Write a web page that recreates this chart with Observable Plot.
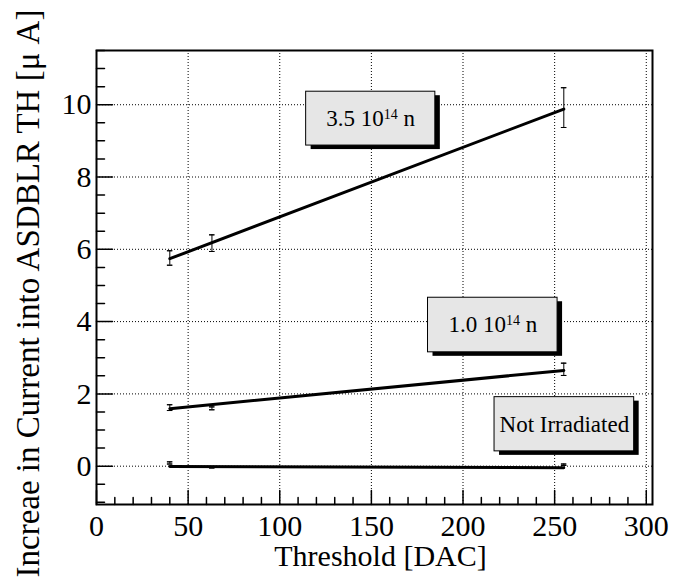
<!DOCTYPE html>
<html><head><meta charset="utf-8">
<script src="https://cdn.jsdelivr.net/npm/d3@7"></script>
<script src="https://cdn.jsdelivr.net/npm/@observablehq/plot@0.6"></script>
<style>body{margin:0;background:#fff}</style>
</head><body><div id="chart"></div>
<script>
// ---- data ----
const thresholds = [40, 63, 255];
const current35 = [5.76, 6.17, 9.92];
const current35Err = [0.2, 0.23, 0.55];
const current10 = [1.62, 1.6, 2.68];
const current10Err = [0.08, 0.04, 0.17];
const currentNot = [0.09, -0.03, 0.04];
const currentNotErr = [0.03, 0.02, 0.02];
const fitRange = [40, 255];
const fit35 = [5.74, 9.88];
const fit10 = [1.59, 2.65];
const fitNot = [-0.01, -0.04];
const seriesNames = ["3.5 10^14 n", "1.0 10^14 n", "Not Irradiated"];
const xTickValues = [0, 50, 100, 150, 200, 250, 300];
const xTickLabels = ["0", "50", "100", "150", "200", "250", "300"];
const yTickValues = [0, 2, 4, 6, 8, 10];
const yTickLabels = ["0", "2", "4", "6", "8", "10"];
const xTitle = "Threshold [DAC]";
const yTitle = "Increae in Current into ASDBLR TH [\u03bc A]";
// annotation box placement (data coordinates)
const boxX1 = [114.4, 180.9, 217.2];
const boxX2 = [184.9, 251.6, 293.4];
const boxY1 = [8.87, 3.15, 0.41];
const boxY2 = [10.36, 4.66, 1.91];

const xMinor = d3.range(0, 301, 10).filter(v => v % 50 !== 0);
const yMinor = d3.range(-1, 11.51, 0.5).filter(v => v % 2 !== 0);

const series = [
  {name: seriesNames[0], y: current35, err: current35Err, fit: fit35},
  {name: seriesNames[1], y: current10, err: current10Err, fit: fit10},
  {name: seriesNames[2], y: currentNot, err: currentNotErr, fit: fitNot}
];
const points = series.flatMap(s => thresholds.map((x, i) => ({x, y: s.y[i], lo: s.y[i] - s.err[i], hi: s.y[i] + s.err[i]})));
const fits = series.flatMap(s => fitRange.map((x, i) => ({name: s.name, x, y: s.fit[i]})));
const boxes = seriesNames.map((text, i) => ({text, x1: boxX1[i], x2: boxX2[i], y1: boxY1[i], y2: boxY2[i]}));

const line = {shape: "spike", r: 0, stroke: "black", fill: "none"};

const chart = Plot.plot({
  width: 673, height: 586,
  marginLeft: 96, marginRight: 21, marginTop: 50, marginBottom: 82,
  x: {domain: [0, 303.4]},
  y: {domain: [-1.06, 11.5]},
  style: {fontFamily: "'Liberation Serif', 'Times New Roman', serif", fontSize: "29px", background: "white", color: "black", overflow: "visible"},
  marks: [
    Plot.ruleX(xTickValues, {stroke: "black", strokeDasharray: "1,2", strokeWidth: 1}),
    Plot.ruleY(yTickValues, {stroke: "black", strokeDasharray: "1,2", strokeWidth: 1}),
    Plot.rect(boxes, {x1: "x1", x2: "x2", y1: "y1", y2: "y2", fill: "black", dx: 5, dy: 4}),
    Plot.rect(boxes, {x1: "x1", x2: "x2", y1: "y1", y2: "y2", fill: "#e6e6e6", stroke: "black", strokeWidth: 1}),
    Plot.text(boxes, {x: d => (d.x1 + d.x2) / 2, y: d => (d.y1 + d.y2) / 2, text: "text", fontSize: 23, fill: "black"}),
    Plot.line(fits, {x: "x", y: "y", z: "name", stroke: "black", strokeWidth: 3}),
    Plot.ruleX(points, {x: "x", y1: "lo", y2: "hi", stroke: "black", strokeWidth: 1}),
    Plot.vector(points, {x: "x", y: "lo", rotate: 90, anchor: "middle", length: 5, ...line, strokeWidth: 1}),
    Plot.vector(points, {x: "x", y: "hi", rotate: 90, anchor: "middle", length: 5, ...line, strokeWidth: 1}),
    Plot.vector(xTickValues, {x: d => d, frameAnchor: "bottom", anchor: "start", length: 14, ...line, strokeWidth: 1.5}),
    Plot.vector(xMinor, {x: d => d, frameAnchor: "bottom", anchor: "start", length: 7, ...line, strokeWidth: 1.5}),
    Plot.vector(yTickValues, {y: d => d, frameAnchor: "left", rotate: 90, anchor: "start", length: 16, ...line, strokeWidth: 1.5}),
    Plot.vector(yMinor, {y: d => d, frameAnchor: "left", rotate: 90, anchor: "start", length: 8, ...line, strokeWidth: 1.5}),
    Plot.axisX(xTickValues, {tickSize: 0, tickPadding: 10, label: null, tickFormat: (d, i) => xTickLabels[i], fontSize: 30}),
    Plot.axisY(yTickValues, {tickSize: 0, tickPadding: 5, label: null, tickFormat: (d, i) => yTickLabels[i], fontSize: 30}),
    Plot.frame({stroke: "black", strokeWidth: 2}),
    Plot.text([xTitle], {frameAnchor: "bottom", dx: 6, dy: 61, text: d => d, fontSize: 30, fill: "black"}),
    Plot.text([yTitle], {frameAnchor: "left", textAnchor: "middle", rotate: -90, dx: -68, dy: 16, text: d => d, fontSize: 33, fill: "black"})
  ]
});

// superscripts in annotation labels
chart.querySelectorAll("text").forEach(t => {
  const s = t.textContent;
  const m = s.match(/^(.*)\^(\d+)(.*)$/);
  if (!m) return;
  t.textContent = "";
  const ns = "http://www.w3.org/2000/svg";
  const a = document.createElementNS(ns, "tspan"); a.textContent = m[1];
  const b = document.createElementNS(ns, "tspan"); b.textContent = m[2];
  b.setAttribute("font-size", "14"); b.setAttribute("dy", "-7");
  const c = document.createElementNS(ns, "tspan"); c.textContent = m[3];
  c.setAttribute("dy", "7");
  t.append(a, b, c);
});

document.getElementById("chart").append(chart);
</script>
</body></html>
